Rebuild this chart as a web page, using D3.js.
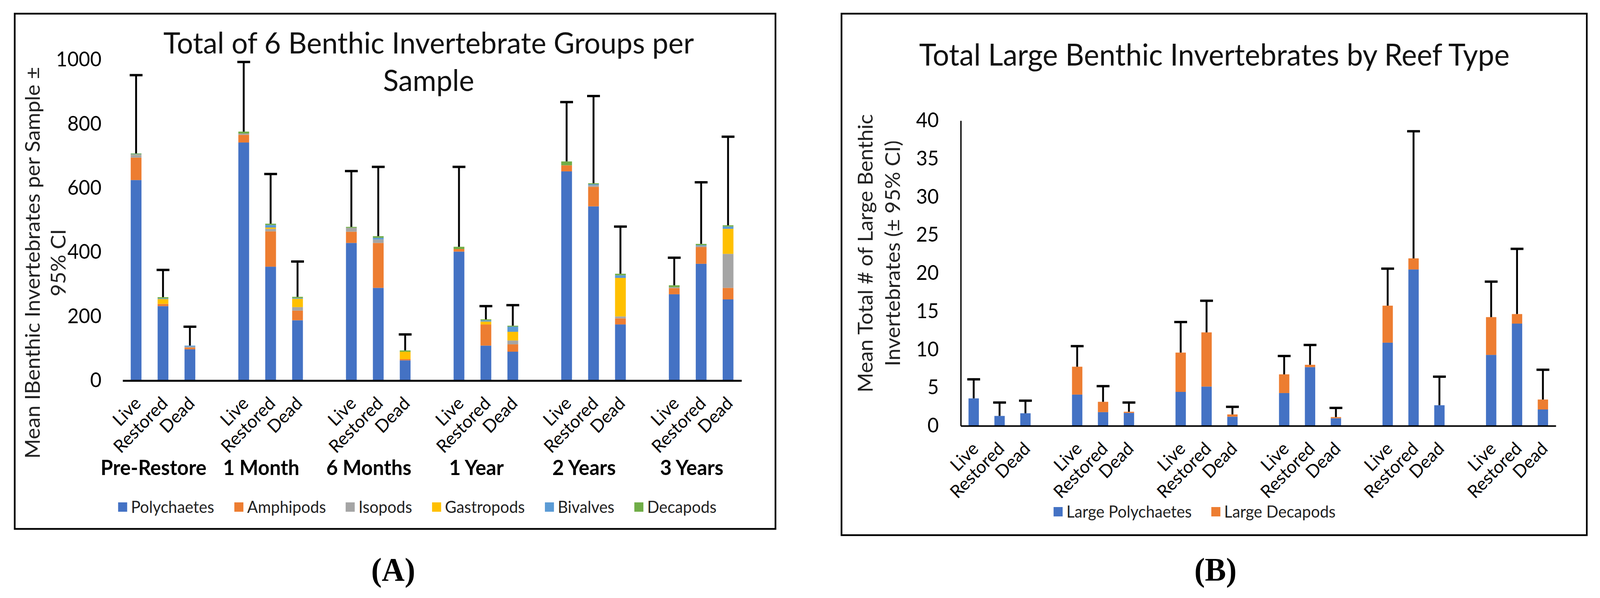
<!DOCTYPE html>
<html>
<head>
<meta charset="utf-8">
<script src="https://cdn.jsdelivr.net/npm/d3@7"></script>
<style>
  html, body { margin: 0; padding: 0; background: #ffffff; overflow: hidden; width: 100%; height: 100%; }
  svg { display: block; width: 100vw; height: 100vh; }
</style>
</head>
<body>
<svg id="chart" viewBox="0 0 4240 1532" preserveAspectRatio="none"></svg>
<script>
// ---------------- DATA ----------------
const periods = ["Pre-Restore", "1 Month", "6 Months", "1 Year", "2 Years", "3 Years"];
const reefTypes = ["Live", "Restored", "Dead"];

// Panel A: six benthic invertebrate groups (mean per sample), order: period x reef type
const groupsA = ["Polychaetes", "Amphipods", "Isopods", "Gastropods", "Bivalves", "Decapods"];
const polychaetes = [625, 232, 97.5, 742, 355, 188, 429, 289, 63, 402, 109, 90, 652, 543, 175, 269, 364, 253];
const amphipods   = [70, 7, 5.5, 24, 110, 30, 35, 140, 4, 8, 66, 23, 19, 61, 19, 19, 52, 36];
const isopods     = [8, 0, 3, 4, 8, 11, 12, 11, 0, 0, 0, 12, 0, 5, 6, 3, 4, 106];
const gastropods  = [1, 15, 0, 0, 4, 26, 0, 0, 23, 0, 9, 27, 0, 0, 120, 0, 0, 78];
const bivalves    = [2, 2, 3, 0, 8, 2, 0, 5, 0, 0, 4, 16, 0, 3, 8, 0, 2, 7];
const decapods    = [2, 4, 0, 6, 4, 4, 3, 5, 4, 7, 3, 3, 12, 3, 5, 6, 4, 4];
const ciUpperA    = [952, 345, 168, 993, 644, 371, 653, 666, 144, 666, 232, 235, 868, 887, 480, 383, 618, 760];
const yTicksA = [0, 200, 400, 600, 800, 1000];

// Panel B: large benthic invertebrates
const groupsB = ["Large Polychaetes", "Large Decapods"];
const largePolychaetes = [3.6, 1.3, 1.65, 4.1, 1.8, 1.7, 4.45, 5.15, 1.2, 4.3, 7.7, 1.0, 10.9, 20.5, 2.7, 9.3, 13.4, 2.15];
const largeDecapods    = [0, 0, 0, 3.65, 1.35, 0.15, 5.15, 7.1, 0.3, 2.45, 0.3, 0.15, 4.85, 1.45, 0, 4.95, 1.25, 1.3];
const ciUpperB         = [6.1, 3.05, 3.3, 10.45, 5.2, 3.05, 13.6, 16.4, 2.5, 9.15, 10.6, 2.35, 20.6, 38.6, 6.45, 18.9, 23.2, 7.35];
const yTicksB = [0, 5, 10, 15, 20, 25, 30, 35, 40];

const colorsA = ["#4472C4", "#ED7D31", "#A5A5A5", "#FFC000", "#5B9BD5", "#70AD47"];
const colorsB = ["#4472C4", "#ED7D31"];

// ---------------- HELPERS ----------------
const FONT = "Lato, 'Open Sans', sans-serif";
const svg = d3.select("#chart");

// category keys with a blank slot between periods
const catKeys = [];
periods.forEach((p, i) => {
  if (i > 0) catKeys.push("gap" + i);
  reefTypes.forEach((r, j) => catKeys.push(i + "-" + j));
});
const keyLabel = k => k.startsWith("gap") ? "" : reefTypes[+k.split("-")[1]];

function buildRows(names, arrays, ci) {
  return d3.range(periods.length * reefTypes.length).map(k => {
    const o = { key: Math.floor(k / 3) + "-" + (k % 3), ci: ci[k] };
    names.forEach((n, si) => o[n] = arrays[si][k]);
    o.total = d3.sum(names, n => o[n]);
    return o;
  });
}

function drawPanel(cfg) {
  const g = svg.append("g");
  // frame
  g.append("rect")
    .attr("x", cfg.frame[0]).attr("y", cfg.frame[1])
    .attr("width", cfg.frame[2] - cfg.frame[0]).attr("height", cfg.frame[3] - cfg.frame[1])
    .attr("fill", "none").attr("stroke", "#000").attr("stroke-width", 4.5);

  const x = d3.scaleBand().domain(catKeys).range([cfg.x0, cfg.x1])
    .paddingInner(0.6).paddingOuter(0.3);
  const y = d3.scaleLinear().domain([0, cfg.yMax]).range([cfg.yBottom, cfg.yTop]);

  const rows = buildRows(cfg.names, cfg.arrays, cfg.ci);
  const stacked = d3.stack().keys(cfg.names)(rows);

  // bars
  g.append("g").selectAll("g").data(stacked).join("g")
    .attr("fill", (d, i) => cfg.colors[i])
    .selectAll("rect").data(d => d).join("rect")
    .attr("x", d => x(d.data.key))
    .attr("width", x.bandwidth())
    .attr("y", d => y(d[1]))
    .attr("height", d => Math.max(0, y(d[0]) - y(d[1])));

  // error bars (upper CI)
  const eb = g.append("g").attr("stroke", "#000");
  eb.selectAll("line.v").data(rows).join("line").attr("class", "v")
    .attr("x1", d => x(d.key) + x.bandwidth() / 2).attr("x2", d => x(d.key) + x.bandwidth() / 2)
    .attr("y1", d => y(d.total)).attr("y2", d => y(d.ci))
    .attr("stroke-width", 5);
  eb.selectAll("line.c").data(rows).join("line").attr("class", "c")
    .attr("x1", d => x(d.key) + x.bandwidth() / 2 - 17).attr("x2", d => x(d.key) + x.bandwidth() / 2 + 17)
    .attr("y1", d => y(d.ci)).attr("y2", d => y(d.ci))
    .attr("stroke-width", 6);

  // y axis
  const ya = g.append("g").attr("transform", `translate(${cfg.x0},0)`)
    .call(d3.axisLeft(y).tickValues(cfg.ticks).tickFormat(d3.format("d"))
      .tickSize(0).tickSizeOuter(0).tickPadding(cfg.tickPad));
  ya.selectAll("text").attr("font-family", FONT).attr("font-size", cfg.tickFont).attr("fill", "#000");
  if (cfg.yLine) ya.select(".domain").attr("stroke", "#000").attr("stroke-width", 3.5);
  else ya.select(".domain").remove();

  // x axis
  const xa = g.append("g").attr("transform", `translate(0,${cfg.yBottom})`)
    .call(d3.axisBottom(x).tickSize(0).tickSizeOuter(0).tickFormat(keyLabel));
  xa.select(".domain").attr("stroke", "#000").attr("stroke-width", cfg.xLineW);
  xa.selectAll("text")
    .attr("font-family", FONT).attr("font-size", cfg.xFont).attr("fill", "#000")
    .attr("y", 0).attr("dy", "0.35em").attr("text-anchor", "end")
    .attr("transform", `translate(4,${cfg.xLabelOffset}) rotate(-45)`);

  // group labels
  if (cfg.groupLabels) {
    g.append("g").selectAll("text").data(periods).join("text")
      .attr("x", (p, i) => (x(i + "-0") + x(i + "-2") + x.bandwidth()) / 2 - 25)
      .attr("y", cfg.groupY)
      .attr("text-anchor", "middle")
      .attr("font-family", FONT).attr("font-weight", "bold").attr("font-size", cfg.groupFont)
      .text(p => p);
  }

  // title
  g.append("g").selectAll("text").data(cfg.title).join("text")
    .attr("x", cfg.titleX).attr("y", (t, i) => cfg.titleY + i * cfg.titleLH)
    .attr("text-anchor", "middle").attr("font-family", FONT).attr("font-size", cfg.titleFont)
    .attr("fill", "#111").text(t => t);

  // y title
  cfg.yTitle.forEach((t, i) => {
    g.append("text")
      .attr("transform", `translate(${cfg.yTitleX[i]},${cfg.yTitleY}) rotate(-90)`)
      .attr("text-anchor", "middle").attr("font-family", FONT).attr("font-size", cfg.yTitleFont)
      .attr("fill", "#222").text(t);
  });

  // legend
  const lg = g.append("g");
  cfg.names.forEach((n, i) => {
    lg.append("rect").attr("x", cfg.legendX[i]).attr("y", cfg.legendY - 12)
      .attr("width", 24).attr("height", 24).attr("fill", cfg.colors[i]);
    lg.append("text").attr("x", cfg.legendX[i] + 34).attr("y", cfg.legendY)
      .attr("dy", "0.35em").attr("font-family", FONT).attr("font-size", cfg.legendFont)
      .attr("fill", "#222").text(n);
  });

  // panel letter
  svg.append("text").attr("x", cfg.letterX).attr("y", 1488)
    .attr("text-anchor", "middle").attr("font-family", "'Liberation Serif', 'DejaVu Serif', serif")
    .attr("font-weight", "bold").attr("font-size", 84).text(cfg.letter);
}

// ---------------- PANEL A ----------------
drawPanel({
  frame: [39, 35, 2055, 1355],
  x0: 325, x1: 1965, yBottom: 975, yTop: 153, yMax: 1000,
  names: groupsA,
  arrays: [polychaetes, amphipods, isopods, gastropods, bivalves, decapods],
  ci: ciUpperA, colors: colorsA, ticks: yTicksA,
  tickPad: 56, tickFont: 52, yLine: false, xLineW: 5,
  xFont: 46, xLabelOffset: 50,
  groupLabels: true, groupY: 1217, groupFont: 53,
  title: ["Total of 6 Benthic Invertebrate Groups per", "Sample"],
  titleX: 1136, titleY: 137, titleLH: 96, titleFont: 76,
  yTitle: ["Mean IBenthic Invertebrates per Sample \u00b1", "95% CI"],
  yTitleX: [106, 174], yTitleY: 673, yTitleFont: 54.5,
  legendX: [313, 621, 916, 1145, 1444, 1681], legendY: 1299, legendFont: 42,
  letter: "(A)", letterX: 1042
});

// ---------------- PANEL B ----------------
drawPanel({
  frame: [2230, 35, 4205, 1371],
  x0: 2546, x1: 4123, yBottom: 1091, yTop: 309, yMax: 40,
  names: groupsB,
  arrays: [largePolychaetes, largeDecapods],
  ci: ciUpperB, colors: colorsB, ticks: yTicksB,
  tickPad: 58, tickFont: 52, yLine: true, xLineW: 4,
  xFont: 46, xLabelOffset: 50,
  groupLabels: false,
  title: ["Total Large Benthic Invertebrates by Reef Type"],
  titleX: 3218, titleY: 168, titleLH: 96, titleFont: 77,
  yTitle: ["Mean Total # of Large Benthic", "Invertebrates (\u00b1 95% CI)"],
  yTitleX: [2313, 2385], yTitleY: 649, yTitleFont: 54.5,
  legendX: [2792, 3210], legendY: 1311, legendFont: 42,
  letter: "(B)", letterX: 3221
});
</script>
</body>
</html>
